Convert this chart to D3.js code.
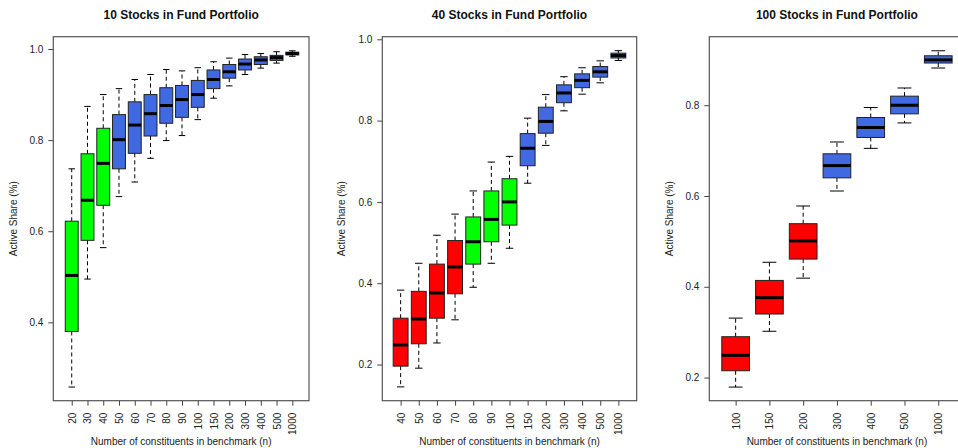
<!DOCTYPE html>
<html>
<head>
<meta charset="utf-8">
<script src="https://cdn.jsdelivr.net/npm/d3@7"></script>
<style>
  body { margin: 0; background: #fff; }
  svg { display: block; font-family: "Liberation Sans", Arial, sans-serif; }
</style>
</head>
<body>
<script>
// ---- data: 10 stocks in fund portfolio
const p1Labels = ["20","30","40","50","60","70","80","90","100","150","200","300","400","500","1000"];
const p1Lo  = [0.258,0.495,0.564,0.676,0.708,0.760,0.799,0.810,0.845,0.892,0.919,0.944,0.958,0.969,0.984];
const p1Q1  = [0.380,0.580,0.657,0.737,0.771,0.809,0.837,0.850,0.872,0.913,0.936,0.954,0.966,0.975,0.987];
const p1Med = [0.503,0.668,0.749,0.801,0.833,0.858,0.876,0.889,0.900,0.933,0.950,0.967,0.976,0.981,0.990];
const p1Q3  = [0.622,0.770,0.826,0.856,0.884,0.900,0.915,0.920,0.931,0.954,0.966,0.978,0.983,0.986,0.993];
const p1Hi  = [0.737,0.874,0.900,0.913,0.933,0.944,0.955,0.952,0.959,0.972,0.980,0.988,0.990,0.994,0.996];
const p1Group = ["mid","mid","mid","high","high","high","high","high","high","high","high","high","high","high","high"];

// ---- data: 40 stocks in fund portfolio
const p2Labels = ["40","50","60","70","80","90","100","150","200","300","400","500","1000"];
const p2Lo  = [0.145,0.191,0.253,0.310,0.390,0.449,0.486,0.646,0.739,0.824,0.865,0.893,0.948];
const p2Q1  = [0.196,0.251,0.314,0.374,0.447,0.502,0.543,0.689,0.769,0.844,0.881,0.907,0.954];
const p2Med = [0.248,0.312,0.376,0.440,0.502,0.557,0.600,0.732,0.798,0.868,0.899,0.920,0.960];
const p2Q3  = [0.314,0.380,0.447,0.505,0.563,0.627,0.657,0.768,0.833,0.888,0.915,0.933,0.966];
const p2Hi  = [0.383,0.449,0.518,0.570,0.627,0.698,0.712,0.806,0.864,0.908,0.930,0.947,0.972];
const p2Group = ["low","low","low","low","mid","mid","mid","high","high","high","high","high","high"];

// ---- data: 100 stocks in fund portfolio
const p3Labels = ["100","150","200","300","400","500","1000"];
const p3Lo  = [0.179,0.302,0.419,0.611,0.705,0.761,0.882];
const p3Q1  = [0.215,0.340,0.461,0.640,0.729,0.781,0.893];
const p3Med = [0.249,0.376,0.501,0.667,0.751,0.800,0.900];
const p3Q3  = [0.290,0.414,0.539,0.693,0.773,0.820,0.909];
const p3Hi  = [0.331,0.454,0.578,0.719,0.795,0.838,0.920];
const p3Group = ["low","low","low","high","high","high","high"];

const titles = ["10 Stocks in Fund Portfolio", "40 Stocks in Fund Portfolio", "100 Stocks in Fund Portfolio"];
const yTicks1 = [0.4, 0.6, 0.8, 1.0];
const yTicks2 = [0.2, 0.4, 0.6, 0.8, 1.0];
const yTicks3 = [0.2, 0.4, 0.6, 0.8];

let color = d3.scaleOrdinal()
    .domain(["low", "mid", "high"])
    .range(["#ff0000", "#00ff00", "#4169e1"]);

let svg = d3.select("body").append("svg")
    .attr("width", 958)
    .attr("height", 448);

let fmt = d3.format(".1f");

function drawPanel(p) {
  let n = p.labels.length;
  let x = d3.scaleLinear()
      .domain([-p.padL, n - 1 + p.padR])
      .range([p.left, p.right]);
  let y = d3.scaleLinear()
      .domain(p.yDomain)
      .range([p.bottom, p.top]);
  let bw = (x(1) - x(0)) * 0.82;

  let g = svg.append("g");

  // title
  g.append("text")
      .attr("x", (p.left + p.right) / 2)
      .attr("y", 19)
      .attr("text-anchor", "middle")
      .style("font-weight", "bold")
      .style("font-size", "12px")
      .attr("fill", "#111")
      .text(p.title);

  // y axis
  let yAxis = g.append("g")
      .attr("transform", "translate(" + p.left + ",0)")
      .call(d3.axisLeft(y).tickValues(p.yTicks).tickFormat(fmt).tickSize(5).tickPadding(5));
  yAxis.select(".domain").remove();
  yAxis.selectAll("line").attr("stroke", "#444");
  yAxis.selectAll("text").style("font-size", "10px").attr("fill", "#222")
      .style("font-family", "Liberation Sans, Arial, sans-serif");

  // x axis
  let xAxis = g.append("g")
      .attr("transform", "translate(0," + p.bottom + ")")
      .call(d3.axisBottom(x).tickValues(d3.range(n)).tickFormat(i => p.labels[i]).tickSize(5));
  xAxis.select(".domain").remove();
  xAxis.selectAll("line").attr("stroke", "#444");
  xAxis.selectAll("text")
      .style("font-size", "10px")
      .style("font-family", "Liberation Sans, Arial, sans-serif")
      .attr("fill", "#222")
      .attr("text-anchor", "end")
      .attr("transform", "rotate(-90)")
      .attr("x", -12)
      .attr("y", 0)
      .attr("dy", "0.35em");

  // axis titles
  g.append("text")
      .attr("x", (p.left + p.right) / 2)
      .attr("y", 445)
      .attr("text-anchor", "middle")
      .style("font-size", "10px")
      .attr("fill", "#222")
      .text("Number of constituents in benchmark (n)");

  g.append("text")
      .attr("transform", "translate(" + p.yLabelX + "," + ((p.top + p.bottom) / 2) + ") rotate(-90)")
      .attr("text-anchor", "middle")
      .style("font-size", "10px")
      .attr("fill", "#222")
      .text("Active Share (%)");

  let items = d3.range(n).map(i => ({
    i: i, lo: p.lo[i], q1: p.q1[i], med: p.med[i], q3: p.q3[i], hi: p.hi[i], grp: p.group[i]
  }));

  let box = g.selectAll(".box")
      .data(items)
      .enter().append("g")
      .attr("class", "box");

  // whiskers
  box.append("line")
      .attr("x1", d => x(d.i)).attr("x2", d => x(d.i))
      .attr("y1", d => y(d.q3)).attr("y2", d => y(d.hi))
      .attr("stroke", "#000").attr("stroke-dasharray", "4,3");
  box.append("line")
      .attr("x1", d => x(d.i)).attr("x2", d => x(d.i))
      .attr("y1", d => y(d.q1)).attr("y2", d => y(d.lo))
      .attr("stroke", "#000").attr("stroke-dasharray", "4,3");
  // caps
  box.append("line")
      .attr("x1", d => x(d.i) - bw / 4).attr("x2", d => x(d.i) + bw / 4)
      .attr("y1", d => y(d.hi)).attr("y2", d => y(d.hi))
      .attr("stroke", "#000");
  box.append("line")
      .attr("x1", d => x(d.i) - bw / 4).attr("x2", d => x(d.i) + bw / 4)
      .attr("y1", d => y(d.lo)).attr("y2", d => y(d.lo))
      .attr("stroke", "#000");

  // boxes
  box.append("rect")
      .attr("x", d => x(d.i) - bw / 2)
      .attr("width", bw)
      .attr("y", d => y(d.q3))
      .attr("height", d => y(d.q1) - y(d.q3))
      .attr("fill", d => color(d.grp))
      .attr("stroke", "#222")
      .attr("stroke-width", 1);

  // median
  box.append("line")
      .attr("x1", d => x(d.i) - bw / 2).attr("x2", d => x(d.i) + bw / 2)
      .attr("y1", d => y(d.med)).attr("y2", d => y(d.med))
      .attr("stroke", "#000").attr("stroke-width", 3);

  // plot frame
  g.append("rect")
      .attr("x", p.left).attr("y", p.top)
      .attr("width", p.right - p.left).attr("height", p.bottom - p.top)
      .attr("fill", "none")
      .attr("stroke", "#555")
      .attr("stroke-width", 1.2);
}

drawPanel({
  title: titles[0], labels: p1Labels, lo: p1Lo, q1: p1Q1, med: p1Med, q3: p1Q3, hi: p1Hi, group: p1Group,
  yTicks: yTicks1, yDomain: [0.228, 1.027],
  left: 53.3, right: 309, top: 36.7, bottom: 400.7, padL: 1.17, padR: 1.06, yLabelX: 17
});
drawPanel({
  title: titles[1], labels: p2Labels, lo: p2Lo, q1: p2Q1, med: p2Med, q3: p2Q3, hi: p2Hi, group: p2Group,
  yTicks: yTicks2, yDomain: [0.111, 1.0064],
  left: 382.3, right: 636.7, top: 36.7, bottom: 400.7, padL: 1.01, padR: 1.01, yLabelX: 345
});
drawPanel({
  title: titles[2], labels: p3Labels, lo: p3Lo, q1: p3Q1, med: p3Med, q3: p3Q3, hi: p3Hi, group: p3Group,
  yTicks: yTicks3, yDomain: [0.149, 0.951],
  left: 709.3, right: 964.6, top: 36.7, bottom: 400.7, padL: 0.78, padR: 0.78, yLabelX: 673
});
</script>
</body>
</html>
